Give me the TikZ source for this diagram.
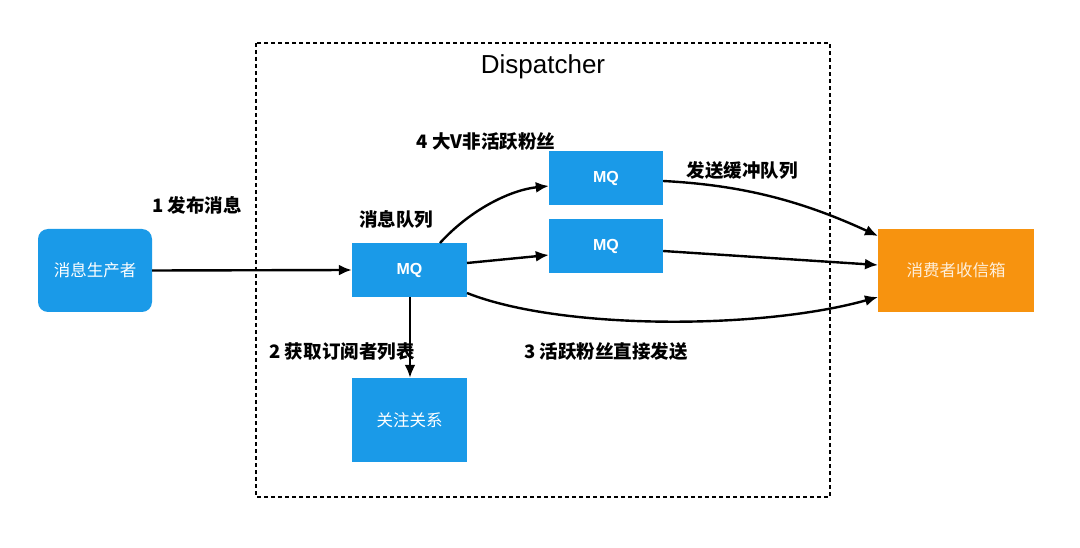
\documentclass[tikz,border=0pt]{standalone}
\usepackage{fontspec}
\setmainfont{Liberation Sans}
\newfontfamily\cjk{Noto Sans CJK SC}
\usetikzlibrary{arrows.meta}
\definecolor{qblue}{HTML}{1A9AE8}
\definecolor{qorange}{HTML}{F7930F}
\begin{document}
\begin{tikzpicture}[x=1pt,y=-1pt,
  bluebox/.style={draw=none,fill=qblue,text=white,font=\cjk\fontsize{16.5}{18}\selectfont,inner sep=0},
  mqtext/.style={font=\bfseries\fontsize{16}{18}\selectfont},
  lbl/.style={font=\cjk\bfseries\fontsize{18.5}{20}\selectfont,text=black,inner sep=0},
  conn/.style={line width=2.4pt,-{Latex[length=13pt,width=11pt]}}]
\useasboundingbox[fill=white] (0,0) rectangle (1080,548);
\draw[line width=2pt,dash pattern=on 4pt off 3pt] (256,43) rectangle (830,497);
\node[font=\fontsize{26}{30}\selectfont] (title) at (543,67) {Dispatcher};
\node[bluebox,rounded corners=10pt,minimum width=114pt,minimum height=83pt] (prod) at (95,270.5) {消息生产者};
\node[bluebox,mqtext,minimum width=115pt,minimum height=54pt] (mq) at (409.5,270) {MQ};
\node[bluebox,mqtext,minimum width=114pt,minimum height=54pt] (mqa) at (606,178) {MQ};
\node[bluebox,mqtext,minimum width=114pt,minimum height=54pt] (mqb) at (606,246) {MQ};
\node[bluebox,minimum width=115pt,minimum height=84pt] (rel) at (409.5,420) {关注关系};
\node[draw=none,fill=qorange,text=white!85!qorange,font=\cjk\fontsize{16.5}{18}\selectfont,minimum width=156pt,minimum height=83pt,inner sep=0] (cons) at (956,270.5) {消费者收信箱};
\node[lbl] (l1) at (197,205) {1 发布消息};
\node[lbl] (l2) at (396,219) {消息队列};
\node[lbl] (l3) at (486,142) {4 大V非活跃粉丝};
\node[lbl] (l4) at (742,170) {发送缓冲队列};
\node[lbl] (l5) at (342,352) {2 获取订阅者列表};
\node[lbl] (l6) at (606,351) {3 活跃粉丝直接发送};
\coordinate (mqtop) at (440,243);
\coordinate (mqr1) at (467,263);
\coordinate (mqr2) at (467,293);
\coordinate (mqbot) at (410,297);
\coordinate (c1) at (878,236);
\coordinate (c2) at (878,265);
\coordinate (c3) at (878,297);
\draw[conn] (prod.east) -- (mq.west);
\draw[conn] (mqbot) -- (mqbot |- rel.north);
\draw[conn] (mqtop) .. controls (470,210) and (510,190) .. (mqa.west |- 0,186);
\draw[conn] (mqr1) -- (mqb.west |- 0,255);
\draw[conn] (mqr2) .. controls (560,330) and (760,330) .. (c3);
\draw[conn] (mqa.east |- 0,181) .. controls (740,185) and (800,200) .. (c1);
\draw[conn] (mqb.east |- 0,251) -- (c2);
\end{tikzpicture}
\end{document}
